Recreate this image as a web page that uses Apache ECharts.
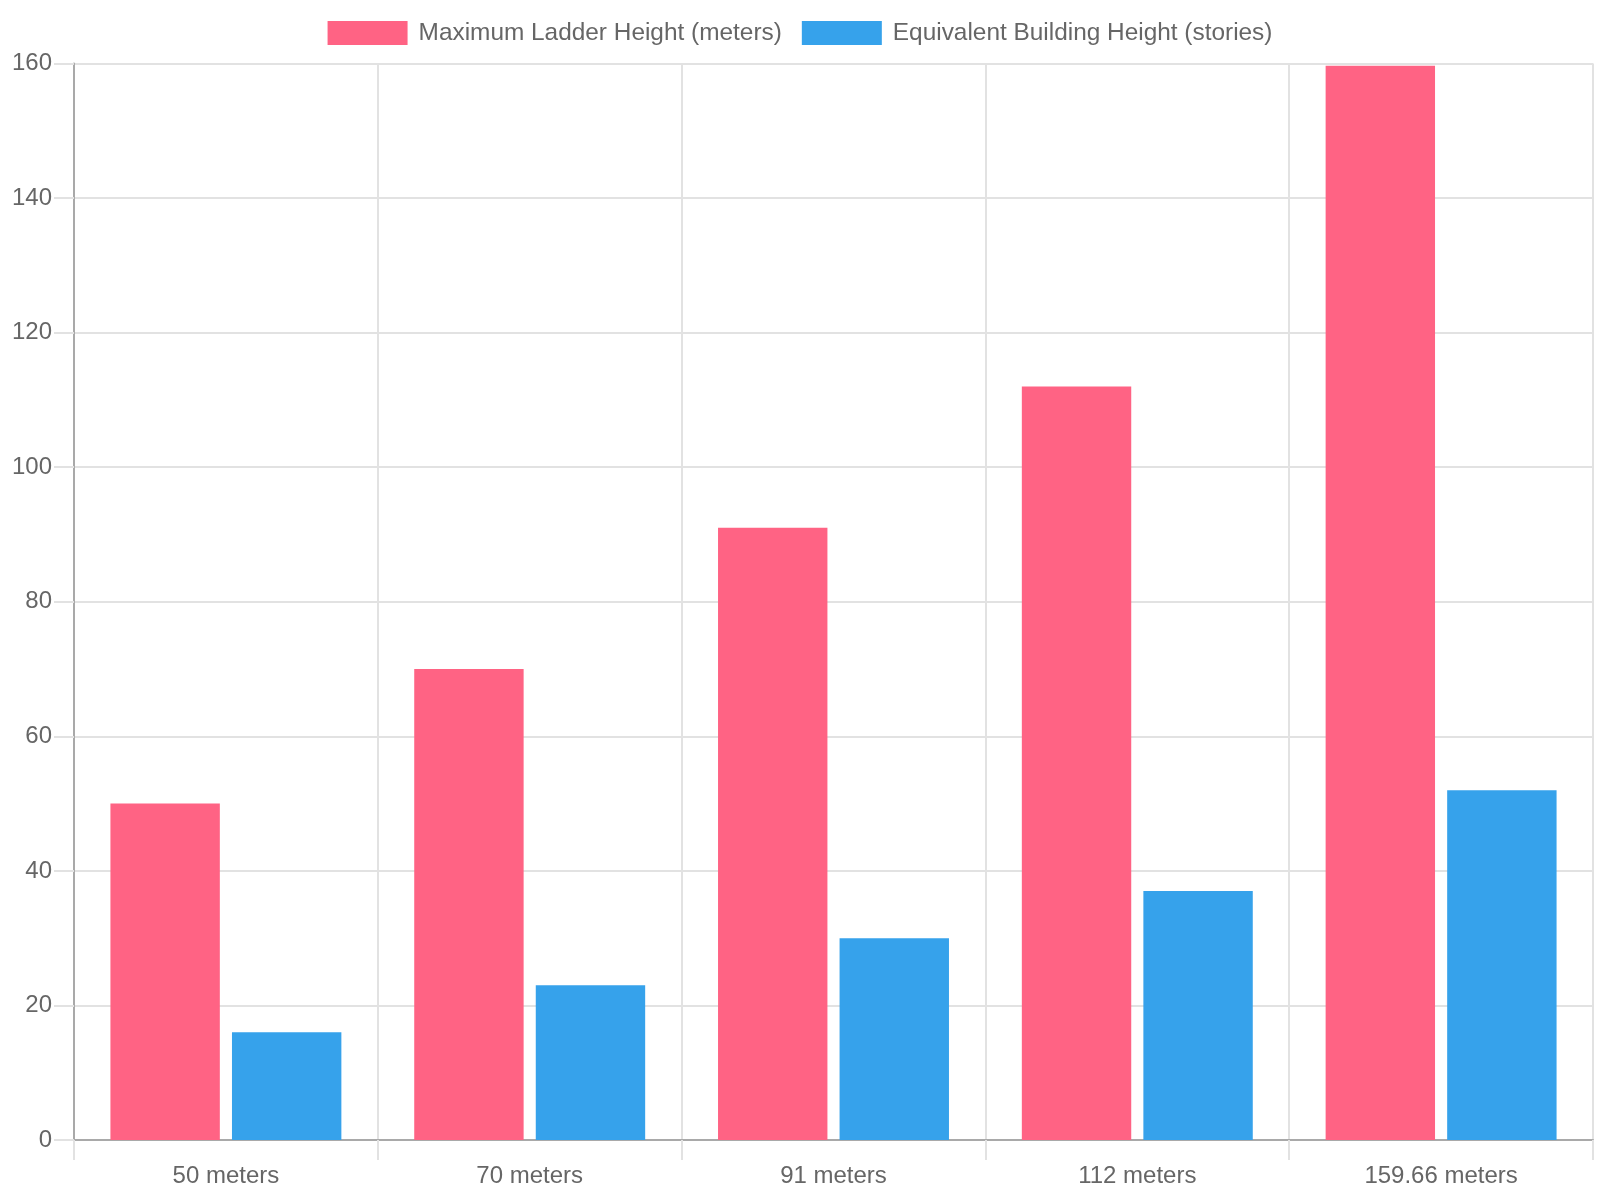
<!DOCTYPE html>
<html>
<head>
<meta charset="utf-8">
<script src="https://cdn.jsdelivr.net/npm/echarts@6/dist/echarts.min.js"></script>
<style>html,body{margin:0;padding:0;background:#fff}#c{width:1600px;height:1200px}</style>
</head>
<body>
<div id="c"></div>
<script>
const categories = ['50 meters', '70 meters', '91 meters', '112 meters', '159.66 meters'];
const ladderHeight = [50, 70, 91, 112, 159.66];
const buildingStories = [16, 23, 30, 37, 52];
const seriesNames = ['Maximum Ladder Height (meters)', 'Equivalent Building Height (stories)'];
const yTicks = { min: 0, max: 160, interval: 20 };

const FONT = '"Liberation Sans", Arial, Helvetica, sans-serif';
const chart = echarts.init(document.getElementById('c'), null, { renderer: 'canvas' });
chart.setOption({
  animation: false,
  backgroundColor: '#fff',
  textStyle: { fontFamily: FONT },
  legend: {
    top: 16,
    left: 'center',
    icon: 'rect',
    itemWidth: 80,
    itemHeight: 24,
    itemGap: 20,
    textStyle: { fontSize: 24.4, color: '#666', fontFamily: FONT, padding: [0, 0, 0, 6] },
    data: seriesNames
  },
  grid: { left: 74, right: 7, top: 63.5, bottom: 60, containLabel: false },
  xAxis: {
    type: 'category',
    data: categories,
    boundaryGap: true,
    axisLine: { show: true, lineStyle: { color: '#a9a9a9', width: 2 } },
    axisTick: { show: true, length: 20, lineStyle: { color: '#e2e2e2', width: 2 } },
    axisLabel: { fontSize: 24, color: '#666', margin: 24, fontFamily: FONT },
    splitLine: { show: true, lineStyle: { color: '#e2e2e2', width: 2 } }
  },
  yAxis: {
    type: 'value',
    min: yTicks.min,
    max: yTicks.max,
    interval: yTicks.interval,
    axisLine: { show: true, lineStyle: { color: '#a9a9a9', width: 2 } },
    axisTick: { show: true, length: 20, lineStyle: { color: '#e2e2e2', width: 2 } },
    axisLabel: { fontSize: 24, color: '#666', margin: 22, fontFamily: FONT },
    splitLine: { show: true, lineStyle: { color: '#e2e2e2', width: 2 } }
  },
  series: [
    {
      name: seriesNames[0], type: 'bar', data: ladderHeight,
      barWidth: 109.4, barGap: '11.1%',
      itemStyle: { color: '#ff6384' }
    },
    {
      name: seriesNames[1], type: 'bar', data: buildingStories,
      barWidth: 109.4, barGap: '11.1%',
      itemStyle: { color: '#36a2eb' }
    }
  ]
});
</script>
</body>
</html>
